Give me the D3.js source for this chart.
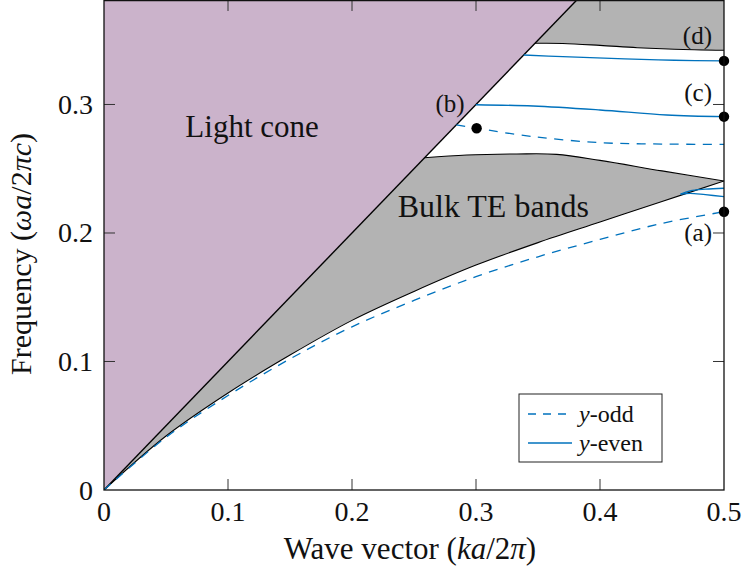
<!DOCTYPE html>
<html>
<head>
<meta charset="utf-8">
<script src="https://cdn.jsdelivr.net/npm/d3@7"></script>
<style>
  html, body { margin: 0; padding: 0; background: #fff; }
  text { font-family: "Liberation Serif", "Times New Roman", serif; fill: #111; }
</style>
</head>
<body>
<svg id="chart" width="743" height="572"></svg>
<script>
// ---- axis ranges and ticks ----
const kTicks = [0, 0.1, 0.2, 0.3, 0.4, 0.5];
const kTickLabels = ["0", "0.1", "0.2", "0.3", "0.4", "0.5"];
const wTicks = [0, 0.1, 0.2, 0.3];
const wTickLabels = ["0", "0.1", "0.2", "0.3"];
const kMax = 0.5;
const wMax = 0.3813;

// ---- light line (omega = k) ----
const lightK = [0, 0.3813];
const lightW = [0, 0.3813];

// ---- bulk TE band: lower edge, and upper edge beyond the light line ----
const bulkLowK = [0, 0.05, 0.1, 0.15, 0.2, 0.25, 0.3, 0.35, 0.4, 0.45, 0.5];
const bulkLowW = [0, 0.042, 0.0755, 0.105, 0.132, 0.1545, 0.175, 0.1925, 0.2085, 0.2245, 0.2405];
const bulkTopK = [0.2585, 0.2925, 0.3328, 0.365, 0.4, 0.45, 0.5];
const bulkTopW = [0.2585, 0.2607, 0.2615, 0.2612, 0.2565, 0.2483, 0.2405];

// ---- second bulk band: lower edge (band extends to the top of the plot) ----
const bulk2K = [0.3476, 0.37, 0.4, 0.43, 0.46, 0.5];
const bulk2W = [0.3476, 0.3475, 0.346, 0.3442, 0.343, 0.3422];

// ---- guided modes ----
// y-odd (dashed)
const oddAK = [0, 0.05, 0.1, 0.15, 0.2, 0.25, 0.3, 0.35, 0.4, 0.45, 0.5];
const oddAW = [0, 0.041, 0.0735, 0.102, 0.127, 0.1475, 0.166, 0.1815, 0.195, 0.2075, 0.2165];
const oddBK = [0.2842, 0.3005, 0.346, 0.4, 0.45, 0.5];
const oddBW = [0.2842, 0.2815, 0.275, 0.2703, 0.2692, 0.269];
// y-even (solid)
const evenCK = [0.2998, 0.346, 0.4, 0.4538, 0.5];
const evenCW = [0.2998, 0.2988, 0.2957, 0.2918, 0.2905];
const evenDK = [0.3385, 0.37, 0.42, 0.46, 0.5];
const evenDW = [0.3385, 0.3372, 0.3355, 0.3344, 0.3339];
const evenHiK = [0.465, 0.4726, 0.485, 0.5];
const evenHiW = [0.2302, 0.2328, 0.2341, 0.2348];
const evenLoK = [0.465, 0.4726, 0.485, 0.5];
const evenLoW = [0.2302, 0.2309, 0.2298, 0.2283];

// ---- marked states and their labels ----
const markNames = ["(a)", "(b)", "(c)", "(d)"];
const markK = [0.5, 0.3005, 0.5, 0.5];
const markW = [0.2165, 0.2815, 0.2905, 0.3339];

// ---- colours ----
const coneColor = "#cbb3cb";
const bandColor = "#b3b3b3";
const modeColor = "#0072bd";

const zip = (ks, ws) => ks.map((k, i) => [k, ws[i]]);

const svg = d3.select("#chart");
const W = 743, H = 572;
const margin = { left: 104, right: 19, top: 0, bottom: 82 };

const x = d3.scaleLinear().domain([0, kMax]).range([margin.left, W - margin.right]);
const y = d3.scaleLinear().domain([0, wMax]).range([H - margin.bottom, margin.top]);

svg.append("rect").attr("width", W).attr("height", H).attr("fill", "#fff");

svg.append("clipPath").attr("id", "plot-clip")
  .append("rect")
  .attr("x", x(0)).attr("y", y(wMax))
  .attr("width", x(kMax) - x(0)).attr("height", y(0) - y(wMax));

const plot = svg.append("g").attr("clip-path", "url(#plot-clip)");

const curve = d3.curveCatmullRom.alpha(0.5);
const line = d3.line().x(d => x(d[0])).y(d => y(d[1])).curve(curve);
const cont = pts => line(pts).replace(/^M/, "L");

// light cone region
const cone = [[lightK[0], lightW[0]], [lightK[1], lightW[1]], [0, wMax]];
plot.append("path")
  .attr("d", d3.line().x(d => x(d[0])).y(d => y(d[1]))(cone) + "Z")
  .attr("fill", coneColor);

// lower bulk band: along light line, over the top edge, back along the lower edge
const low = zip(bulkLowK, bulkLowW);
const top1 = zip(bulkTopK, bulkTopW);
const bandPath = `M${x(0)},${y(0)}L${x(bulkTopK[0])},${y(bulkTopW[0])}` +
  cont(top1) + cont(low.slice().reverse()) + "Z";
plot.append("path").attr("d", bandPath).attr("fill", bandColor);

// upper bulk band
const band2 = zip(bulk2K, bulk2W);
plot.append("path")
  .attr("d", line(band2) + `L${x(kMax)},${y(wMax)}L${x(wMax)},${y(wMax)}Z`)
  .attr("fill", bandColor);

// band edges
[low, top1, band2].forEach(pts => {
  plot.append("path").attr("d", line(pts))
    .attr("fill", "none").attr("stroke", "#000").attr("stroke-width", 1.1);
});

// light line
plot.append("path")
  .attr("d", d3.line().x(d => x(d[0])).y(d => y(d[1]))(zip(lightK, lightW)))
  .attr("fill", "none").attr("stroke", "#000").attr("stroke-width", 1.4);

// guided modes
const oddModes = [zip(oddAK, oddAW), zip(oddBK, oddBW)];
const evenModes = [zip(evenCK, evenCW), zip(evenDK, evenDW), zip(evenHiK, evenHiW), zip(evenLoK, evenLoW)];
oddModes.forEach(pts => {
  plot.append("path").attr("d", line(pts))
    .attr("fill", "none").attr("stroke", modeColor)
    .attr("stroke-width", 1.3).attr("stroke-dasharray", "9,7.5");
});
evenModes.forEach(pts => {
  plot.append("path").attr("d", line(pts))
    .attr("fill", "none").attr("stroke", modeColor).attr("stroke-width", 1.3);
});

// marked states
svg.append("g").selectAll("circle")
  .data(markK.map((k, i) => ({ k, w: markW[i] })))
  .join("circle")
  .attr("cx", d => x(d.k)).attr("cy", d => y(d.w)).attr("r", 5.2)
  .attr("fill", "#000");

// state labels, set beside their dots
const labelOffsets = [[-12, 29], [-12, -16], [-12, -16], [-12, -17]];
svg.append("g").selectAll("text")
  .data(markNames.map((n, i) => ({ n, k: markK[i], w: markW[i], o: labelOffsets[i] })))
  .join("text")
  .attr("x", d => x(d.k) + d.o[0]).attr("y", d => y(d.w) + d.o[1])
  .attr("text-anchor", "end").attr("font-size", 25)
  .text(d => d.n);

// region labels
svg.append("text")
  .attr("x", x(0.1194)).attr("y", y(0.2747))
  .attr("text-anchor", "middle").attr("font-size", 31)
  .text("Light cone");
svg.append("text")
  .attr("x", x(0.314)).attr("y", y(0.2127))
  .attr("text-anchor", "middle").attr("font-size", 32)
  .text("Bulk TE bands");

// ---- frame and inward ticks on all four sides ----
const tickLen = 11;
const axes = svg.append("g").attr("stroke", "#333").attr("stroke-width", 1);
kTicks.slice(1, -1).forEach(k => {
  axes.append("line").attr("x1", x(k)).attr("x2", x(k)).attr("y1", y(0)).attr("y2", y(0) - tickLen);
  axes.append("line").attr("x1", x(k)).attr("x2", x(k)).attr("y1", y(wMax)).attr("y2", y(wMax) + tickLen);
});
wTicks.slice(1).forEach(w => {
  axes.append("line").attr("x1", x(0)).attr("x2", x(0) + tickLen).attr("y1", y(w)).attr("y2", y(w));
  axes.append("line").attr("x1", x(kMax)).attr("x2", x(kMax) - tickLen).attr("y1", y(w)).attr("y2", y(w));
});
svg.append("rect")
  .attr("x", x(0)).attr("y", y(wMax) + 0.6)
  .attr("width", x(kMax) - x(0)).attr("height", y(0) - y(wMax) - 0.6)
  .attr("fill", "none").attr("stroke", "#111").attr("stroke-width", 1.3);

// tick labels
svg.append("g").selectAll("text")
  .data(kTicks.map((k, i) => ({ k, t: kTickLabels[i] })))
  .join("text")
  .attr("x", d => x(d.k)).attr("y", y(0) + 31)
  .attr("text-anchor", "middle").attr("font-size", 28)
  .text(d => d.t);
svg.append("g").selectAll("text")
  .data(wTicks.map((w, i) => ({ w, t: wTickLabels[i] })))
  .join("text")
  .attr("x", x(0) - 11).attr("y", d => y(d.w) + 9.5)
  .attr("text-anchor", "end").attr("font-size", 28)
  .text(d => d.t);

// axis titles
const xTitle = svg.append("text")
  .attr("x", 410).attr("y", 559)
  .attr("text-anchor", "middle").attr("font-size", 31);
xTitle.append("tspan").text("Wave vector (");
xTitle.append("tspan").attr("font-style", "italic").text("ka");
xTitle.append("tspan").text("/2");
xTitle.append("tspan").attr("font-style", "italic").text("π");
xTitle.append("tspan").text(")");

const yTitle = svg.append("text")
  .attr("transform", "translate(31,254) rotate(-90)")
  .attr("text-anchor", "middle").attr("font-size", 30);
yTitle.append("tspan").text("Frequency (");
yTitle.append("tspan").attr("font-style", "italic").text("ωa");
yTitle.append("tspan").text("/2");
yTitle.append("tspan").attr("font-style", "italic").text("πc");
yTitle.append("tspan").text(")");

// ---- legend ----
const legendItems = [
  { name: "-odd", dash: "8,7" },
  { name: "-even", dash: null }
];
const lg = svg.append("g").attr("transform", "translate(519,394)");
lg.append("rect").attr("width", 143).attr("height", 68)
  .attr("fill", "#fff").attr("stroke", "#222").attr("stroke-width", 1);
legendItems.forEach((it, i) => {
  const cy = 20 + i * 29;
  lg.append("line").attr("x1", 9).attr("x2", 53).attr("y1", cy).attr("y2", cy)
    .attr("stroke", modeColor).attr("stroke-width", 1.3)
    .attr("stroke-dasharray", it.dash);
  const t = lg.append("text").attr("x", 60).attr("y", cy + 8).attr("font-size", 24);
  t.append("tspan").attr("font-style", "italic").text("y");
  t.append("tspan").text(it.name);
});
</script>
</body>
</html>
